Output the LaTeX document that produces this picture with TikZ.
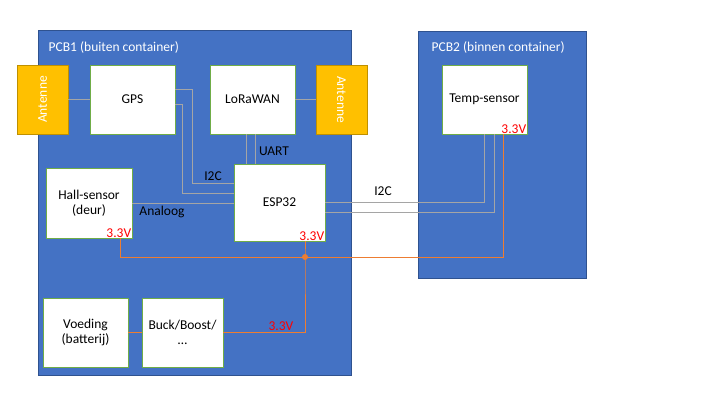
\documentclass[tikz,border=0pt]{standalone}
\usepackage{fontspec}
\setmainfont{Carlito}
\usepackage{xcolor}
\usepackage{tikz}
\definecolor{pcbblue}{HTML}{4472C4}
\definecolor{pcbedge}{HTML}{2F528F}
\definecolor{boxgreen}{HTML}{70AD47}
\definecolor{antyellow}{HTML}{FFC000}
\definecolor{antedge}{HTML}{BF9000}
\definecolor{wiregray}{HTML}{A5A5A5}
\definecolor{pwrorange}{HTML}{ED7D31}
\tikzset{wire/.style = {draw=wiregray, line width=0.8pt},
         pwr/.style = {draw=pwrorange, line width=0.8pt}}

\begin{document}
\begin{tikzpicture}[x=1pt,y=-1pt,font=\fontsize{13.5}{15.5}\selectfont,
    pcb/.style={rectangle,fill=pcbblue,draw=pcbedge,line width=0.8pt},
    main node/.style={rectangle,fill=white,draw=boxgreen,line width=0.8pt,align=center,minimum width=85pt,minimum height=69pt,inner sep=0pt},
    antenna/.style={rectangle,fill=antyellow,draw=antedge,line width=0.8pt,text=white,minimum width=51pt,minimum height=69pt},
    volt/.style={text=red,inner sep=1pt},
    lbl/.style={inner sep=1pt}]
    \useasboundingbox (0,0) rectangle (720,405);

    % boards
    \node[pcb,minimum width=313pt,minimum height=345pt] (pcb1) at (194.5,202.5) {};
    \node[pcb,minimum width=168pt,minimum height=247pt] (pcb2) at (502,154.5) {};
    \node[text=white,anchor=west,inner sep=0pt] (t1) at (48.5,47) {PCB1 (buiten container)};
    \node[text=white,anchor=west,inner sep=0pt] (t2) at (431.5,47) {PCB2 (binnen container)};

    % blocks
    \node[antenna] (antL) at (42.5,99.5) {\rotatebox{90}{Antenne}};
    \node[antenna] (antR) at (341.5,99.5) {\rotatebox{-90}{Antenne}};
    \node[main node] (gps) at (132.5,99.5) {GPS};
    \node[main node] (lora) at (252.5,99.5) {LoRaWAN};
    \node[main node] (temp) at (484.5,99.5) {Temp-sensor};
    \node[main node,minimum width=91pt,minimum height=77pt] (esp) at (279.5,202.5) {ESP32};
    \node[main node,minimum width=86pt,minimum height=70pt] (hall) at (89,203) {Hall-sensor\\(deur)};
    \node[main node] (vd) at (85.5,332.5) {Voeding\\(batterij)};
    \node[main node,minimum width=81pt] (buck) at (182.5,332.5) {Buck/Boost/\\\dots};

    \node[volt,anchor=south east] (v1) at (esp.south east) {3.3V};
    \node[volt,anchor=south east] (v2) at (hall.south east) {3.3V};
    \node[volt,anchor=south east] (v3) at (temp.south east) {3.3V};

    % data lines
    \path[wire] (antL.east) -- (gps.west);
    \path[wire] (lora.east) -- (antR.west);
    \path[wire] (gps.east |- 0,89) -| (192,183) -- (esp.west |- 0,183);
    \path[wire] (gps.east |- 0,104) -| (182,193) -- (esp.west |- 0,193);
    \path[wire] (hall.east |- 0,203) -- (esp.west |- 0,203);
    \path[wire] (lora.south -| 246,0) -- (esp.north -| 246,0);
    \path[wire] (lora.south -| 255,0) -- (esp.north -| 255,0);
    \path[wire] (esp.east |- 0,202) -| (temp.south -| 484,0);
    \path[wire] (esp.east |- 0,212) -| (temp.south -| 494,0);
    \node[lbl] (l1) at (213,176) {I2C};
    \node[lbl] (l2) at (162,212) {Analoog};
    \node[lbl] (l3) at (274,151) {UART};
    \node[lbl] (l4) at (383,191) {I2C};

    % power
    \coordinate (junc) at (305,257);
    \path[pwr] (temp.south -| 503,0) |- (120,257) -- (hall.south -| 120,0);
    \path[pwr] (esp.south -| junc) -- (junc) |- (buck.east);
    \path[pwr] (vd.east) -- (buck.west);
    \fill[pwrorange] (junc) circle (3pt);
    \node[volt] (v4) at (281,326) {3.3V};
\end{tikzpicture}
\end{document}
